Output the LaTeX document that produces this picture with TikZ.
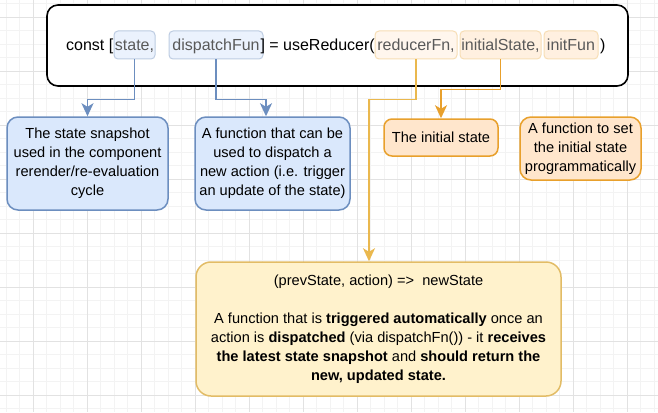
\documentclass[tikz,border=0pt]{standalone}
\usepackage{fontspec}
\setmainfont{Liberation Sans}
\usetikzlibrary{arrows.meta}
\definecolor{gridmin}{HTML}{F3F3F3}
\definecolor{gridmaj}{HTML}{E2E2E2}
\definecolor{blueF}{HTML}{DAE8FC}
\definecolor{blueD}{HTML}{6C8EBF}
\definecolor{orngF}{HTML}{FFE6CC}
\definecolor{orngD}{HTML}{E8A02C}
\definecolor{yelF}{HTML}{FFF2CC}
\definecolor{yelD}{HTML}{E2BC66}
\definecolor{yelL}{HTML}{EAB84E}

\begin{document}
\begin{tikzpicture}[x=1pt,y=-1pt,
  box/.style={draw,rounded corners=11pt,line width=1.5pt,align=center,inner sep=0pt,
    font=\fontsize{14.6}{19}\selectfont},
  code/.style={inner sep=0pt,text height=14pt,text depth=3pt,font=\fontsize{16}{19}\selectfont},
  hl/.style={code,rounded corners=4pt,minimum height=28pt,line width=1pt,text=black!65},
  hlblue/.style={hl,fill=blueF!55,draw=blueD!45},
  hlorng/.style={hl,fill=orngF!60,draw=orngD!35},
  link/.style={line width=1.6pt,-{Stealth[length=13pt,width=12pt,inset=3.5pt]}}]
  \clip (0,0) rectangle (658,412);
  \foreach \i in {0,...,48}{\draw[gridmin,line width=0.8pt] (6+13.5*\i,0) -- ++(0,412);}
  \foreach \i in {0,...,30}{\draw[gridmin,line width=0.8pt] (0,3.5+13.5*\i) -- ++(658,0);}
  \foreach \i in {0,...,11}{\draw[gridmaj,line width=0.8pt] (33+54*\i,0) -- ++(0,412);}
  \foreach \i in {0,...,7}{\draw[gridmaj,line width=0.8pt] (0,17+54*\i) -- ++(658,0);}

  \node[draw,fill=white,rounded corners=11pt,line width=1.6pt,minimum width=581pt,minimum height=81pt] (hook) at (337.5,45.5) {};
  \node[hlblue,minimum width=41pt] (state) at (134.5,45) {state,};
  \node[hlblue,minimum width=94pt] (dispatch) at (216,45) {dispatchFun};
  \node[hlorng,fill=orngF!35,minimum width=82pt] (reducer) at (416,45) {reducerFn,};
  \node[hlorng,minimum width=81pt] (initstate) at (500.5,45) {initialState,};
  \node[hlorng,minimum width=54pt] (initfun) at (571,45) {initFun};
  \node[code,anchor=east] (constkw) at (113.5,45) {const [};
  \node[code,anchor=east] (usered) at (375,45) {] = useReducer(};
  \node[code,anchor=west] (closep) at (600,45) {)};

  \node[box,fill=blueF,draw=blueD,minimum width=161pt,minimum height=93pt] (snap) at (87.5,163.5)
    {The state snapshot\\used in the component\\rerender/re-evaluation\\cycle};
  \node[box,fill=blueF,draw=blueD,minimum width=155pt,minimum height=93pt] (dfn) at (272.5,163.5)
    {A function that can be\\used to dispatch a\\new action (i.e. trigger\\an update of the state)};
  \node[box,fill=orngF,draw=orngD,rounded corners=8pt,minimum width=114pt,minimum height=37pt] (init) at (441,137.5)
    {The initial state};
  \node[box,fill=orngF,draw=orngD,minimum width=121pt,minimum height=63pt] (initfn) at (580.5,148.5)
    {A function to set\\the initial state\\programmatically};
  \node[box,fill=yelF,draw=yelD,rounded corners=15pt,minimum width=365pt,minimum height=134pt] (reducefn) at (378.5,329)
    {(prevState, action) =\textgreater{}\ \ newState\\[19pt]
     A function that is \textbf{triggered automatically} once an\\
     action is \textbf{dispatched} (via dispatchFn()) - it \textbf{receives}\\
     \textbf{the latest state snapshot} and \textbf{should return the}\\
     \textbf{new, updated state.}};

  \draw[link,blueD] (state.south) -- ++(0,40) -| (snap.north);
  \draw[link,blueD] (dispatch.south) -- ++(0,40) -| ([xshift=-6.5pt]dfn.north);
  \draw[link,orngD] (initstate.south) -- ++(0,30) -| (init.north);
  \draw[link,yelL] (reducer.south) -- ++(0,40) -| ([xshift=-9.5pt]reducefn.north);
\end{tikzpicture}
\end{document}
